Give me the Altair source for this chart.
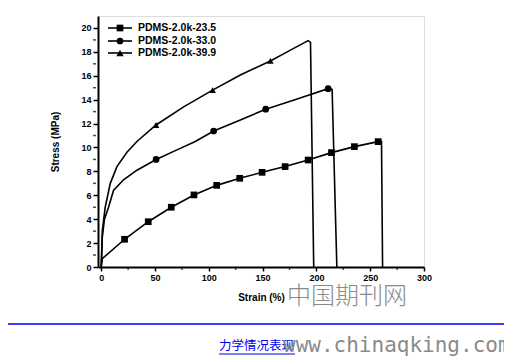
import altair as alt
import pandas as pd

series_names = ["PDMS-2.0k-23.5", "PDMS-2.0k-33.0", "PDMS-2.0k-39.9"]

# curve points (strain %, stress MPa)
s1_strain = [0, 1, 21.7, 43.7, 65.1, 86.2, 107.3, 128.7, 149.5, 170.9, 192.3, 214.0, 235.3, 257.4, 260.5, 261.5]
s1_stress = [0, 0.7, 2.32, 3.79, 5.0, 6.03, 6.83, 7.42, 7.92, 8.4, 8.95, 9.57, 10.07, 10.49, 10.5, 0]
s1_mark_strain = [21.7, 43.7, 65.1, 86.2, 107.3, 128.7, 149.5, 170.9, 192.3, 214.0, 235.3, 257.4]
s1_mark_stress = [2.32, 3.79, 5.0, 6.03, 6.83, 7.42, 7.92, 8.4, 8.95, 9.57, 10.07, 10.49]

s2_strain = [0, 1, 3, 6.8, 11.4, 20.7, 33.2, 51.0, 70.4, 87.4, 104.5, 129.3, 152.9, 180.0, 210.9, 214.6, 219.0]
s2_stress = [0, 2.5, 4.0, 5.0, 6.4, 7.3, 8.1, 9.0, 9.8, 10.5, 11.38, 12.3, 13.2, 14.0, 14.92, 14.85, 0]
s2_mark_strain = [51.0, 104.5, 152.9, 210.9]
s2_mark_stress = [9.0, 11.38, 13.2, 14.92]

s3_strain = [0, 1, 3.7, 8.4, 14.6, 23.9, 33.2, 50.9, 76.6, 103.5, 129.3, 157.2, 175.0, 192.3, 194.5, 197.5]
s3_stress = [0, 3.0, 5.0, 7.0, 8.4, 9.6, 10.5, 11.88, 13.4, 14.8, 16.07, 17.24, 18.1, 18.94, 18.8, 0]
s3_mark_strain = [50.9, 103.5, 157.2]
s3_mark_stress = [11.88, 14.8, 17.24]

x_ticks = [0, 50, 100, 150, 200, 250, 300]
x_minor = [25, 75, 125, 175, 225, 275]
y_ticks = [0, 2, 4, 6, 8, 10, 12, 14, 16, 18, 20]
y_minor = [1, 3, 5, 7, 9, 11, 13, 15, 17, 19]

shapes = ["square", "circle", "triangle-up"]
sizes = [45, 45, 55]

curves = []
marks = []
for name, cx, cy, mx, my in [
    (series_names[0], s1_strain, s1_stress, s1_mark_strain, s1_mark_stress),
    (series_names[1], s2_strain, s2_stress, s2_mark_strain, s2_mark_stress),
    (series_names[2], s3_strain, s3_stress, s3_mark_strain, s3_mark_stress),
]:
    for i, (a, b) in enumerate(zip(cx, cy)):
        curves.append({"series": name, "strain": a, "stress": b, "i": i})
    for a, b in zip(mx, my):
        marks.append({"series": name, "strain": a, "stress": b})
curve_df = pd.DataFrame(curves)
mark_df = pd.DataFrame(marks)

FONT = "Liberation Sans"
xscale = alt.Scale(domain=[-3, 300], nice=False, zero=False)
yscale = alt.Scale(domain=[0, 21], nice=False, zero=False)

x_axis = alt.Axis(
    title="Strain (%)", values=x_ticks, grid=False, labelOverlap=False, tickSize=4,
    labelFont=FONT, labelFontWeight="bold", labelFontSize=9, labelColor="black",
    titleFont=FONT, titleFontWeight="bold", titleFontSize=10, titleColor="black",
    titlePadding=10, labelPadding=2, domainColor="black", domainWidth=2,
    tickColor="black", tickWidth=1.5, labelFlush=False)
y_axis = alt.Axis(
    title="Stress (MPa)", values=y_ticks, grid=False, labelOverlap=False, tickSize=5,
    labelFont=FONT, labelFontWeight="bold", labelFontSize=9, labelColor="black",
    titleFont=FONT, titleFontWeight="bold", titleFontSize=10, titleColor="black",
    titlePadding=20, labelPadding=2, domainColor="black", domainWidth=2,
    tickColor="black", tickWidth=1.5, labelFlush=False)

x_enc = alt.X("strain:Q", scale=xscale, axis=x_axis)
y_enc = alt.Y("stress:Q", scale=yscale, axis=y_axis)

lines = alt.Chart(curve_df).mark_line(color="black", strokeWidth=1.6).encode(
    x=x_enc, y=y_enc, detail="series:N", order="i:Q")

points = alt.Chart(mark_df).mark_point(filled=True, color="black", opacity=1).encode(
    x=x_enc, y=y_enc,
    shape=alt.Shape("series:N", scale=alt.Scale(domain=series_names, range=shapes), legend=None),
    size=alt.Size("series:N", scale=alt.Scale(domain=series_names, range=sizes), legend=None))

# minor ticks drawn through the shared scales
ym_df = pd.DataFrame({"stress": y_minor})
xm_df = pd.DataFrame({"strain": x_minor})
y_minor_ticks = alt.Chart(ym_df).mark_tick(color="black", thickness=1.5, size=3, orient="horizontal").encode(
    y=y_enc, x=alt.value(-3.5))
x_minor_ticks = alt.Chart(xm_df).mark_tick(color="black", thickness=1.5, size=3, orient="vertical").encode(
    x=x_enc, y=alt.value(252.5))

layers = [lines, points, y_minor_ticks, x_minor_ticks]

# manual legend (inside top-left)
leg_rows = [12, 25, 37]
for name, shp, sz, ry in zip(series_names, shapes, sizes, leg_rows):
    one = pd.DataFrame({"series": [name]})
    layers.append(alt.Chart(one).mark_rule(color="black", strokeWidth=1.6).encode(
        x=alt.value(10), x2=alt.value(34), y=alt.value(ry)))
    layers.append(alt.Chart(one).mark_point(filled=True, color="black", opacity=1, shape=shp, size=sz).encode(
        x=alt.value(22), y=alt.value(ry)))
    layers.append(alt.Chart(one).mark_text(align="left", baseline="middle", font=FONT, fontWeight="bold",
                                           fontSize=10.5, color="black").encode(
        x=alt.value(40), y=alt.value(ry), text="series:N"))

# page decorations from the source image
deco = pd.DataFrame({"t": ["中国期刊网", "力学情况表现", "www.chinaqking.com"]})
layers.append(alt.Chart(deco).transform_filter("datum.t == '中国期刊网'").mark_text(
    align="left", baseline="middle", font="Noto Sans CJK SC", fontWeight=300, fontSize=24,
    color="#8a8a8a").encode(x=alt.value(189), y=alt.value(281), text="t:N"))
layers.append(alt.Chart(deco).transform_filter("datum.t == '力学情况表现'").mark_text(
    align="left", baseline="middle", font="Noto Sans CJK SC", fontSize=12.5,
    color="#0000ee").encode(x=alt.value(121), y=alt.value(330), text="t:N"))
layers.append(alt.Chart(deco).transform_filter("datum.t == '力学情况表现'").mark_rule(
    color="#0000ee", strokeWidth=1).encode(x=alt.value(121), x2=alt.value(197), y=alt.value(338)))
layers.append(alt.Chart(deco).transform_filter("datum.t == 'www.chinaqking.com'").mark_text(
    align="left", baseline="alphabetic", font="DejaVu Sans Mono", fontSize=21,
    color="#8a8a8a").encode(x=alt.value(185), y=alt.value(336), text="t:N"))
layers.append(alt.Chart(deco).transform_filter("datum.t == '中国期刊网'").mark_rule(
    color="#0000ff", strokeWidth=1.5).encode(x=alt.value(-90), x2=alt.value(408), y=alt.value(308)))

chart = alt.layer(*layers).properties(
    width=326, height=251,
    autosize=alt.AutoSizeParams(type="none"),
    padding={"left": 90, "top": 8, "right": 80, "bottom": 89},
).configure_view(stroke="black", strokeWidth=2).configure(background="white")

chart.save("out.html", embed_options={"renderer": "svg", "actions": False})
